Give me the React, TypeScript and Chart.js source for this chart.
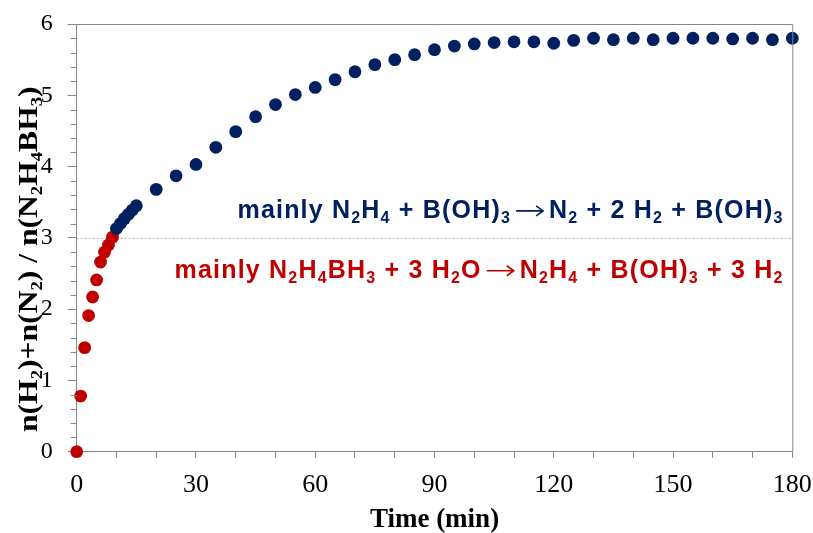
import { useEffect, useRef } from "react";
import { Chart, registerables } from "chart.js";

Chart.register(...registerables);

// ---- data ----
const redTime = [0, 1, 2, 3, 4, 5, 6, 7, 8, 9];
const redRatio = [0, 0.78, 1.46, 1.91, 2.17, 2.41, 2.66, 2.8, 2.9, 3.01];

const blueTime = [
  10, 11, 12, 13, 14, 15, 20, 25, 30, 35, 40, 45, 50, 55, 60, 65, 70, 75, 80, 85, 90,
  95, 100, 105, 110, 115, 120, 125, 130, 135, 140, 145, 150, 155, 160, 165, 170, 175, 180,
];
const blueRatio = [
  3.13, 3.2, 3.27, 3.33, 3.39, 3.45, 3.68, 3.87, 4.03, 4.27, 4.49, 4.7, 4.87, 5.01, 5.11,
  5.22, 5.33, 5.43, 5.5, 5.57, 5.64, 5.69, 5.72, 5.74, 5.75, 5.75, 5.73, 5.77, 5.8, 5.78,
  5.8, 5.78, 5.8, 5.8, 5.8, 5.79, 5.8, 5.78, 5.8,
];

const xLabelValues = [0, 30, 60, 90, 120, 150, 180];
const yLabelValues = [0, 1, 2, 3, 4, 5, 6];
const dividerValue = 3;

// rich text: [text, kind] kind: 0 normal, 1 subscript, 2 arrow
type Seg = [string, number];
const blueNote: Seg[] = [
  ["mainly N", 0], ["2", 1], ["H", 0], ["4", 1], [" + B(OH)", 0], ["3", 1],
  ["\u2192", 2], ["N", 0], ["2", 1], [" + 2 H", 0], ["2", 1], [" + B(OH)", 0], ["3", 1],
];
const redNote: Seg[] = [
  ["mainly N", 0], ["2", 1], ["H", 0], ["4", 1], ["BH", 0], ["3", 1],
  [" + 3 H", 0], ["2", 1], ["O", 0], ["\u2192", 2], ["N", 0], ["2", 1], ["H", 0], ["4", 1],
  [" + B(OH)", 0], ["3", 1], [" + 3 H", 0], ["2", 1],
];
const yTitle: Seg[] = [
  ["n(H", 0], ["2", 1], [")+n(N", 0], ["2", 1], [") / n(N", 0], ["2", 1],
  ["H", 0], ["4", 1], ["BH", 0], ["3", 1], [")", 0],
];
const xTitle = "Time (min)";

const BLUE = "#002060";
const RED = "#C00000";
const AXIS = "#868686";

const ARROW_PRE = 5;
const ARROW_LEN = 27;
const ARROW_POST = 6;

function segWidth(ctx: CanvasRenderingContext2D, seg: Seg, mainFont: string, subFont: string) {
  if (seg[1] === 2) return ARROW_PRE + ARROW_LEN + ARROW_POST;
  ctx.font = seg[1] === 1 ? subFont : mainFont;
  return ctx.measureText(seg[0]).width;
}

function drawRich(
  ctx: CanvasRenderingContext2D,
  segs: Seg[],
  x: number,
  y: number,
  align: "left" | "right" | "center",
  mainFont: string,
  subFont: string,
  subDy: number,
  color: string,
  spacing = 0
) {
  ctx.save();
  (ctx as any).letterSpacing = spacing + "px";
  let w = 0;
  for (const s of segs) w += segWidth(ctx, s, mainFont, subFont);
  let cx = align === "left" ? x : align === "right" ? x - w : x - w / 2;
  ctx.fillStyle = color;
  ctx.strokeStyle = color;
  ctx.textAlign = "left";
  ctx.textBaseline = "alphabetic";
  for (const s of segs) {
    const [t, kind] = s;
    if (kind === 2) {
      const ax = cx + ARROW_PRE;
      const ay = y - 7;
      ctx.lineWidth = 1.6;
      ctx.beginPath();
      ctx.moveTo(ax, ay);
      ctx.lineTo(ax + ARROW_LEN, ay);
      ctx.moveTo(ax + ARROW_LEN - 7, ay - 5);
      ctx.lineTo(ax + ARROW_LEN, ay);
      ctx.lineTo(ax + ARROW_LEN - 7, ay + 5);
      ctx.stroke();
    } else {
      ctx.font = kind === 1 ? subFont : mainFont;
      ctx.fillText(t, cx, y + (kind === 1 ? subDy : 0));
    }
    cx += segWidth(ctx, s, mainFont, subFont);
  }
  ctx.restore();
}

const decorPlugin = {
  id: "decor",
  beforeDatasetsDraw(chart: any) {
    const { ctx, chartArea: a, scales } = chart;
    const yp = scales.y.getPixelForValue(dividerValue);
    ctx.save();
    ctx.strokeStyle = "#b4b4b4";
    ctx.lineWidth = 1;
    ctx.setLineDash([2, 2]);
    ctx.beginPath();
    ctx.moveTo(a.left, Math.round(yp) + 0.5);
    ctx.lineTo(a.right, Math.round(yp) + 0.5);
    ctx.stroke();
    ctx.restore();
  },
  afterDraw(chart: any) {
    const { ctx, chartArea: a, scales } = chart;
    ctx.save();
    // frame top/right
    ctx.strokeStyle = AXIS;
    ctx.lineWidth = 1;
    ctx.beginPath();
    ctx.moveTo(a.left, a.top + 0.5);
    ctx.lineTo(a.right + 0.5, a.top + 0.5);
    ctx.lineTo(a.right + 0.5, a.bottom);
    ctx.stroke();
    // minor y ticks
    ctx.beginPath();
    for (let i = 0; i <= 30; i++) {
      if (i % 5 === 0) continue;
      const v = i / 5;
      const p = Math.round(scales.y.getPixelForValue(v)) + 0.5;
      ctx.moveTo(a.left - 6, p);
      ctx.lineTo(a.left, p);
    }
    ctx.stroke();

    // annotations
    const sans = "'Liberation Sans', Arial, sans-serif";
    const xr = scales.x.getPixelForValue(177.8);
    drawRich(ctx, blueNote, xr, scales.y.getPixelForValue(3.28), "right",
      `bold 25px ${sans}`, `bold 16px ${sans}`, 5, BLUE, 1.2);
    drawRich(ctx, redNote, xr, scales.y.getPixelForValue(2.44), "right",
      `bold 25px ${sans}`, `bold 16px ${sans}`, 5, RED, 1.2);

    // x title
    ctx.fillStyle = "#000";
    ctx.font = "bold 27px 'Liberation Serif', 'Times New Roman', serif";
    ctx.textAlign = "center";
    ctx.textBaseline = "alphabetic";
    ctx.fillText(xTitle, (a.left + a.right) / 2, 527);

    // y title (starts at bottom, stretched along its length)
    ctx.translate(37, 432);
    ctx.rotate(-Math.PI / 2);
    ctx.scale(1.17, 1);
    drawRich(ctx, yTitle, 0, 0, "left",
      "bold 27px 'Liberation Serif', 'Times New Roman', serif", "bold 16px 'Liberation Serif', 'Times New Roman', serif", 4.5, "#000");
    ctx.restore();
  },
};

export default function App() {
  const ref = useRef<HTMLCanvasElement | null>(null);
  useEffect(() => {
    document.body.style.margin = "0";
    const canvas = ref.current;
    if (!canvas) return;
    const chart = new Chart(canvas, {
      type: "scatter",
      data: {
        datasets: [
          {
            label: "blue",
            data: blueTime.map((t, i) => ({ x: t, y: blueRatio[i] })),
            backgroundColor: BLUE,
            borderWidth: 0,
            pointRadius: 6.4,
            clip: false,
          },
          {
            label: "red",
            data: redTime.map((t, i) => ({ x: t, y: redRatio[i] })),
            backgroundColor: RED,
            borderWidth: 0,
            pointRadius: 6.4,
            clip: false,
          },
        ],
      },
      options: {
        animation: false,
        responsive: false,
        layout: { autoPadding: false, padding: { top: 24, right: 20.7, left: 0, bottom: 0 } },
        plugins: { legend: { display: false }, tooltip: { enabled: false } },
        scales: {
          x: {
            type: "linear",
            min: 0,
            max: 180,
            afterFit: (s: any) => {
              s.height = 81.3;
              s.paddingLeft = 0;
              s.paddingRight = 0;
            },
            ticks: {
              stepSize: 10,
              autoSkip: false,
              maxRotation: 0,
              padding: 12,
              color: "#000",
              font: { family: "'Liberation Serif', 'Times New Roman', serif", size: 26 },
              callback: (v: any) => (xLabelValues.includes(Number(v)) ? String(v) : ""),
            },
            grid: { drawOnChartArea: false, drawTicks: true, tickLength: 6, tickColor: AXIS },
            border: { display: true, color: AXIS, width: 1 },
          },
          y: {
            type: "linear",
            min: 0,
            max: 6,
            afterFit: (s: any) => {
              s.width = 76.7;
              s.paddingTop = 0;
              s.paddingBottom = 0;
            },
            ticks: {
              stepSize: 1,
              autoSkip: false,
              padding: 15,
              color: "#000",
              font: { family: "'Liberation Serif', 'Times New Roman', serif", size: 24 },
              callback: (v: any) => (yLabelValues.includes(Number(v)) ? String(v) : ""),
            },
            grid: { drawOnChartArea: false, drawTicks: true, tickLength: 9, tickColor: AXIS },
            border: { display: true, color: AXIS, width: 1 },
          },
        },
      },
      plugins: [decorPlugin],
    });
    return () => chart.destroy();
  }, []);
  return (
    <div style={{ width: 813, height: 533, background: "#fff" }}>
      <canvas ref={ref} width={813} height={533} style={{ display: "block" }} />
    </div>
  );
}
